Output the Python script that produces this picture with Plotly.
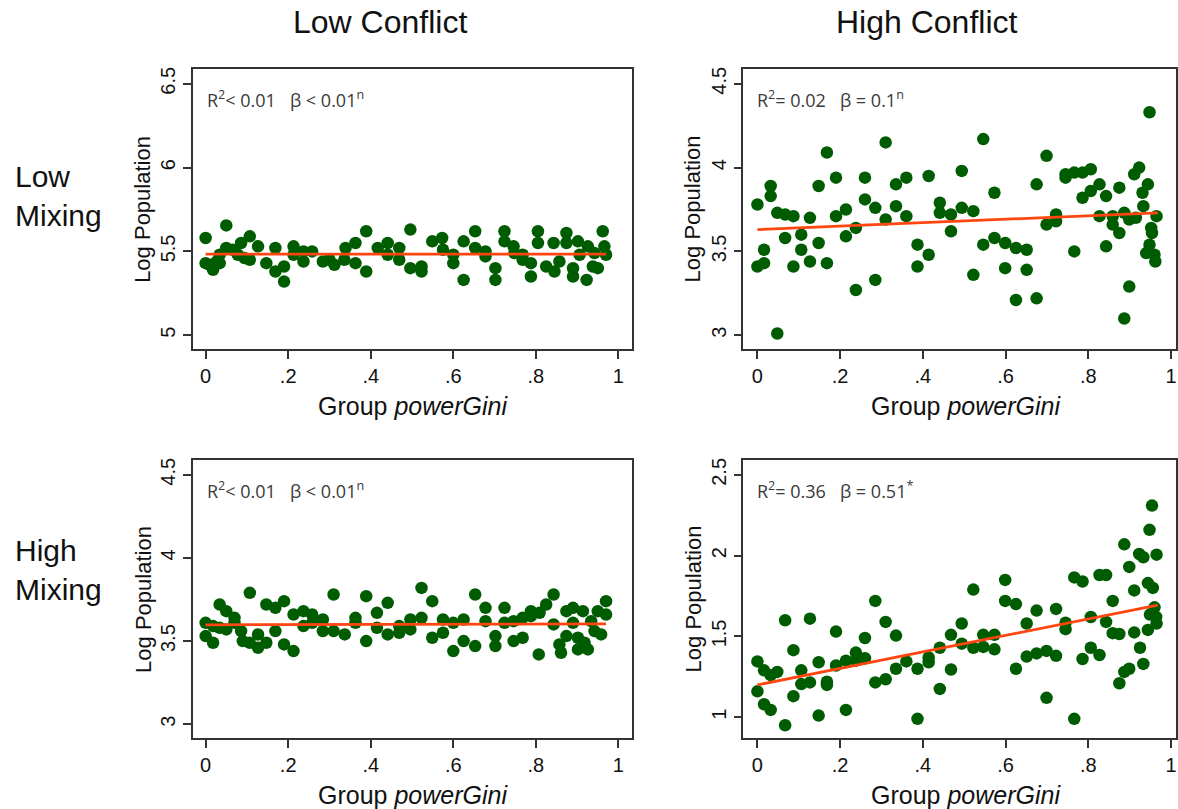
import plotly.graph_objects as go

# ---------------- data ----------------
col_titles = ["Low Conflict", "High Conflict"]
row_titles = ["Low<br>Mixing", "High<br>Mixing"]
x_tickvals = [0, 0.2, 0.4, 0.6, 0.8, 1]
x_ticktext = ["0", ".2", ".4", ".6", ".8", "1"]

# Panel 1: Low Conflict / Low Mixing
p1_x = [0, 0, 0.01, 0.018, 0.027, 0.034, 0.034, 0.05, 0.05, 0.066, 0.078, 0.086, 0.094, 0.107, 0.107,
        0.127, 0.147, 0.169, 0.169, 0.19, 0.19, 0.213, 0.213, 0.237, 0.237, 0.258, 0.284, 0.30, 0.312,
        0.336, 0.339, 0.363, 0.363, 0.389, 0.389, 0.417, 0.441, 0.441, 0.469, 0.469, 0.496, 0.496,
        0.523, 0.523, 0.549, 0.573, 0.575, 0.60, 0.60, 0.625, 0.625, 0.653, 0.653, 0.678, 0.678,
        0.702, 0.702, 0.724, 0.724, 0.746, 0.748, 0.768, 0.768, 0.788, 0.788, 0.805, 0.805, 0.825,
        0.843, 0.845, 0.857, 0.874, 0.874, 0.89, 0.89, 0.902, 0.906, 0.923, 0.926, 0.938, 0.942,
        0.95, 0.962, 0.966, 0.97]
p1_y = [5.58, 5.43, 5.42, 5.39, 5.44, 5.43, 5.48, 5.655, 5.52, 5.51, 5.48, 5.55, 5.46, 5.59, 5.45,
        5.53, 5.43, 5.38, 5.52, 5.32, 5.41, 5.53, 5.48, 5.44, 5.50, 5.50, 5.44, 5.45, 5.42,
        5.45, 5.52, 5.55, 5.43, 5.62, 5.38, 5.52, 5.55, 5.48, 5.52, 5.45, 5.63, 5.40,
        5.41, 5.38, 5.56, 5.58, 5.51, 5.48, 5.43, 5.33, 5.56, 5.62, 5.52, 5.50, 5.47,
        5.40, 5.33, 5.62, 5.56, 5.53, 5.49, 5.48, 5.45, 5.43, 5.35, 5.62, 5.55, 5.41,
        5.55, 5.38, 5.44, 5.61, 5.55, 5.40, 5.35, 5.56, 5.48, 5.33, 5.53, 5.41, 5.49,
        5.40, 5.62, 5.53, 5.48]
p1_fit_x = [0, 0.97]
p1_fit_y = [5.484, 5.484]

# Panel 2: High Conflict / Low Mixing
p2_x = [0, 0, 0.016, 0.016, 0.032, 0.032, 0.048, 0.048, 0.067, 0.067, 0.087, 0.087, 0.106, 0.106,
        0.127, 0.127, 0.148, 0.148, 0.168, 0.168, 0.19, 0.19, 0.214, 0.214, 0.238, 0.238, 0.26, 0.26,
        0.285, 0.285, 0.31, 0.31, 0.335, 0.335, 0.36, 0.36, 0.387, 0.387, 0.414, 0.414, 0.441, 0.441,
        0.468, 0.468, 0.494, 0.494, 0.522, 0.522, 0.546, 0.546, 0.573, 0.573, 0.599, 0.599, 0.625,
        0.625, 0.651, 0.651, 0.675, 0.675, 0.699, 0.699, 0.722, 0.722, 0.745, 0.745, 0.766, 0.766,
        0.786, 0.786, 0.806, 0.806, 0.827, 0.827, 0.843, 0.843, 0.859, 0.859, 0.875, 0.875, 0.887,
        0.887, 0.899, 0.899, 0.911, 0.915, 0.923, 0.931, 0.933, 0.94, 0.944, 0.948, 0.948, 0.952,
        0.954, 0.96, 0.962, 0.965]
p2_y = [3.78, 3.41, 3.51, 3.43, 3.89, 3.83, 3.73, 3.01, 3.72, 3.58, 3.71, 3.41, 3.60, 3.51,
        3.70, 3.44, 3.89, 3.55, 4.09, 3.43, 3.94, 3.71, 3.75, 3.59, 3.64, 3.27, 3.94, 3.81,
        3.76, 3.33, 4.15, 3.69, 3.90, 3.77, 3.94, 3.71, 3.54, 3.41, 3.95, 3.48, 3.79, 3.73,
        3.72, 3.62, 3.98, 3.76, 3.74, 3.36, 4.17, 3.54, 3.85, 3.58, 3.55, 3.40, 3.52,
        3.21, 3.51, 3.39, 3.90, 3.22, 4.07, 3.66, 3.72, 3.68, 3.96, 3.94, 3.97, 3.50,
        3.97, 3.82, 3.99, 3.86, 3.90, 3.71, 3.83, 3.53, 3.71, 3.66, 3.88, 3.61, 3.73,
        3.10, 3.69, 3.29, 3.96, 3.70, 4.00, 3.85, 3.77, 3.49, 3.90, 4.33, 3.54, 3.64,
        3.61, 3.48, 3.44, 3.71]
p2_fit_x = [0, 0.968]
p2_fit_y = [3.63, 3.73]

# Panel 3: Low Conflict / High Mixing
p3_x = [0, 0, 0.018, 0.018, 0.034, 0.034, 0.05, 0.05, 0.07, 0.07, 0.086, 0.09, 0.107, 0.107, 0.127,
        0.127, 0.147, 0.147, 0.169, 0.169, 0.19, 0.19, 0.213, 0.213, 0.237, 0.237, 0.258, 0.258,
        0.284, 0.284, 0.31, 0.31, 0.337, 0.363, 0.363, 0.389, 0.389, 0.415, 0.415, 0.441, 0.441,
        0.469, 0.469, 0.496, 0.496, 0.523, 0.523, 0.549, 0.549, 0.575, 0.575, 0.60, 0.60, 0.625,
        0.625, 0.653, 0.653, 0.678, 0.678, 0.702, 0.702, 0.724, 0.724, 0.746, 0.746, 0.768, 0.768,
        0.788, 0.788, 0.807, 0.809, 0.825, 0.843, 0.843, 0.857, 0.861, 0.874, 0.874, 0.89, 0.89,
        0.902, 0.902, 0.914, 0.918, 0.926, 0.934, 0.942, 0.95, 0.958, 0.97, 0.97]
p3_y = [3.61, 3.53, 3.49, 3.59, 3.72, 3.58, 3.68, 3.57, 3.64, 3.61, 3.56, 3.50, 3.79, 3.49, 3.54,
        3.46, 3.72, 3.49, 3.70, 3.56, 3.74, 3.48, 3.66, 3.44, 3.68, 3.59, 3.66, 3.61,
        3.63, 3.56, 3.78, 3.56, 3.54, 3.64, 3.61, 3.77, 3.50, 3.67, 3.58, 3.73, 3.54,
        3.59, 3.55, 3.63, 3.57, 3.82, 3.64, 3.74, 3.52, 3.63, 3.55, 3.61, 3.44, 3.63,
        3.50, 3.78, 3.47, 3.70, 3.62, 3.53, 3.47, 3.70, 3.61, 3.62, 3.50, 3.64, 3.52,
        3.68, 3.65, 3.42, 3.67, 3.72, 3.78, 3.60, 3.48, 3.43, 3.68, 3.53, 3.70, 3.61,
        3.52, 3.45, 3.68, 3.49, 3.45, 3.62, 3.56, 3.68, 3.54, 3.74, 3.66]
p3_fit_x = [0, 0.97]
p3_fit_y = [3.598, 3.603]

# Panel 4: High Conflict / High Mixing
p4_x = [0, 0, 0.016, 0.016, 0.032, 0.032, 0.048, 0.067, 0.067, 0.087, 0.087, 0.106, 0.106, 0.127,
        0.127, 0.148, 0.148, 0.168, 0.168, 0.19, 0.19, 0.214, 0.214, 0.238, 0.238, 0.26, 0.26, 0.285,
        0.285, 0.31, 0.31, 0.335, 0.335, 0.36, 0.387, 0.387, 0.414, 0.414, 0.441, 0.441, 0.468, 0.468,
        0.494, 0.494, 0.522, 0.522, 0.546, 0.546, 0.573, 0.573, 0.599, 0.599, 0.625, 0.625, 0.651,
        0.651, 0.675, 0.675, 0.699, 0.699, 0.722, 0.722, 0.745, 0.745, 0.766, 0.766, 0.786, 0.786,
        0.806, 0.806, 0.827, 0.827, 0.843, 0.843, 0.859, 0.859, 0.875, 0.875, 0.887, 0.887, 0.899,
        0.899, 0.911, 0.911, 0.923, 0.925, 0.933, 0.933, 0.944, 0.944, 0.948, 0.949, 0.954, 0.956,
        0.96, 0.964, 0.965, 0.965]
p4_y = [1.345, 1.16, 1.29, 1.08, 1.26, 1.045, 1.28, 1.60, 0.95, 1.415, 1.13, 1.29, 1.205, 1.61,
        1.215, 1.34, 1.01, 1.22, 1.20, 1.53, 1.32, 1.35, 1.045, 1.40, 1.35, 1.49, 1.365, 1.72,
        1.215, 1.59, 1.235, 1.505, 1.30, 1.345, 1.30, 0.99, 1.37, 1.34, 1.43, 1.175, 1.51, 1.295,
        1.58, 1.455, 1.79, 1.43, 1.51, 1.435, 1.51, 1.42, 1.85, 1.72, 1.70, 1.30, 1.58,
        1.375, 1.66, 1.395, 1.41, 1.12, 1.67, 1.38, 1.585, 1.545, 1.865, 0.99, 1.84, 1.36,
        1.62, 1.43, 1.88, 1.385, 1.88, 1.59, 1.72, 1.52, 1.515, 1.21, 2.07, 1.28, 1.93,
        1.30, 1.785, 1.525, 2.01, 1.43, 1.99, 1.33, 1.83, 1.54, 2.16, 1.635, 2.31, 1.80,
        1.68, 1.62, 2.006, 1.58]
p4_fit_x = [0, 0.968]
p4_fit_y = [1.20, 1.694]

stats = ["R<sup>2</sup>< 0.01\u00a0\u00a0\u00a0β < 0.01<sup>n</sup>",
         "R<sup>2</sup>= 0.02\u00a0\u00a0\u00a0β = 0.1<sup>n</sup>",
         "R<sup>2</sup>< 0.01\u00a0\u00a0\u00a0β < 0.01<sup>n</sup>",
         "R<sup>2</sup>= 0.36\u00a0\u00a0\u00a0β = 0.51<sup>*</sup>"]

y_ticks = [[5, 5.5, 6, 6.5], [3, 3.5, 4, 4.5], [3, 3.5, 4, 4.5], [1, 1.5, 2, 2.5]]
y_ticktext = [["5", "5.5", "6", "6.5"], ["3", "3.5", "4", "4.5"],
              ["3", "3.5", "4", "4.5"], ["1", "1.5", "2", "2.5"]]

# ---------------- layout geometry ----------------
W, H = 1178, 809
FONT = "Liberation Sans, Arial, sans-serif"
GREEN = "#005c00"
LINE = "#ff4510"
AX = "#333333"

panels = [
    dict(x=p1_x, y=p1_y, fx=p1_fit_x, fy=p1_fit_y, xpx=(193, 633), ypx=(67, 348),
         xr=[-0.031, 1.034], yr=[4.917, 6.589]),
    dict(x=p2_x, y=p2_y, fx=p2_fit_x, fy=p2_fit_y, xpx=(744, 1177), ypx=(67, 348),
         xr=[-0.034, 1.012], yr=[2.917, 4.589]),
    dict(x=p3_x, y=p3_y, fx=p3_fit_x, fy=p3_fit_y, xpx=(193, 633), ypx=(459, 738),
         xr=[-0.031, 1.034], yr=[2.916, 4.59]),
    dict(x=p4_x, y=p4_y, fx=p4_fit_x, fy=p4_fit_y, xpx=(744, 1177), ypx=(459, 738),
         xr=[-0.034, 1.012], yr=[0.87, 2.593]),
]

fig = go.Figure()
layout = dict(width=W, height=H, margin=dict(l=0, r=0, t=0, b=0),
              paper_bgcolor="white", plot_bgcolor="white", showlegend=False,
              font=dict(family=FONT, color="#111111"))
annotations = []

for i, p in enumerate(panels):
    n = "" if i == 0 else str(i + 1)
    xa, ya = "x" + n, "y" + n
    fig.add_trace(go.Scatter(x=p["x"], y=p["y"], mode="markers", xaxis=xa, yaxis=ya,
                             marker=dict(size=12.5, color=GREEN, line=dict(width=0)),
                             hoverinfo="skip"))
    fig.add_trace(go.Scatter(x=p["fx"], y=p["fy"], mode="lines", xaxis=xa, yaxis=ya,
                             line=dict(color=LINE, width=2.8), hoverinfo="skip"))
    xd = [p["xpx"][0] / W, p["xpx"][1] / W]
    yd = [1 - p["ypx"][1] / H, 1 - p["ypx"][0] / H]
    common = dict(showline=True, linecolor=AX, linewidth=1.5, mirror=True, showgrid=False,
                  zeroline=False, ticks="outside", ticklen=8, tickwidth=1.5, tickcolor=AX,
                  tickfont=dict(family=FONT, size=20, color="#111111"))
    layout["xaxis" + n] = dict(domain=xd, range=p["xr"], anchor=ya, tickmode="array",
                               tickvals=x_tickvals, ticktext=x_ticktext, **common)
    layout["yaxis" + n] = dict(domain=yd, range=p["yr"], anchor=xa, tickmode="array",
                               tickvals=y_ticks[i], ticktext=y_ticktext[i], tickangle=-90,
                               **common)
    # stats text
    annotations.append(dict(text=stats[i], x=(p["xpx"][0] + 12) / W,
                            y=1 - (p["ypx"][0] + 30) / H, xref="paper", yref="paper",
                            xanchor="left", yanchor="middle", showarrow=False,
                            font=dict(family="Open Sans, sans-serif", size=18, color="#3a3a3a")))
    # axis titles
    cx = (p["xpx"][0] + p["xpx"][1]) / 2 if i % 2 == 0 else 967
    annotations.append(dict(text="Group <i>powerGini</i>", x=cx / W,
                            y=1 - (p["ypx"][1] + 57) / H, xref="paper", yref="paper",
                            xanchor="center", yanchor="middle", showarrow=False,
                            font=dict(family=FONT, size=25, color="#111111")))
    annotations.append(dict(text="Log Population", x=(p["xpx"][0] - 50) / W,
                            y=1 - (p["ypx"][0] + p["ypx"][1]) / 2 / H, xref="paper",
                            yref="paper", xanchor="center", yanchor="middle", textangle=-90,
                            showarrow=False, font=dict(family=FONT, size=22, color="#111111")))

# column and row titles
for j, cx in enumerate([380, 928]):
    annotations.append(dict(text=col_titles[j], x=cx / W, y=1 - 20 / H, xref="paper",
                            yref="paper", xanchor="center", yanchor="middle", showarrow=False,
                            font=dict(family=FONT, size=32, color="#111111")))
for j, cy in enumerate([194, 569]):
    annotations.append(dict(text=row_titles[j], x=13 / W, y=1 - cy / H, xref="paper",
                            yref="paper", xanchor="left", yanchor="middle", align="left",
                            showarrow=False,
                            font=dict(family=FONT, size=30, color="#111111")))

layout["annotations"] = annotations
fig.update_layout(**layout)
fig.write_html("out.html", config={"displayModeBar": False},
               post_script="document.body.style.margin='0';document.body.style.overflow='hidden';")
